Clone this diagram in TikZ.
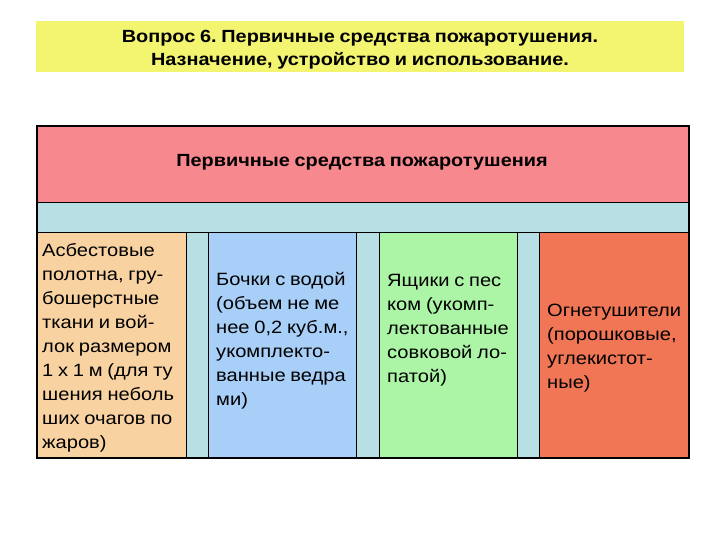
\documentclass[tikz,border=0pt]{standalone}
\usepackage{fontspec}
\setmainfont{Liberation Sans}[FakeStretch=1.13, WordSpace=0.85]
\frenchspacing
\definecolor{ttlyellow}{HTML}{F3F571}
\definecolor{hdrpink}{HTML}{F7888E}
\definecolor{strip}{HTML}{B8DFE3}
\definecolor{colorange}{HTML}{F9D2A2}
\definecolor{colblue}{HTML}{A7CFF7}
\definecolor{colgreen}{HTML}{ACF5A6}
\definecolor{colred}{HTML}{F07655}
\begin{document}
\begin{tikzpicture}[x=1pt,y=1pt,
  box/.style={draw=black, line width=1pt, inner sep=0pt},
  body/.style={font=\fontsize{17.8}{24}\selectfont, align=left, inner sep=0pt, anchor=west},
  ]
\useasboundingbox (0,0) rectangle (720,540);
% title
\fill[ttlyellow] (36,519) rectangle (684,468);
\node[font=\bfseries\fontsize{17.6}{23}\selectfont, align=center] (title) at (360,490)
  {Вопрос 6. Первичные средства пожаротушения.\\Назначение, устройство и использование.};
% frame background
\fill[strip] (37,414) rectangle (689,82);
% header
\draw[box, fill=hdrpink] (37,414) rectangle (689,337);
\node[font=\bfseries\fontsize{17.6}{20}\selectfont] (hdr) at (362,378) {Первичные средства пожаротушения};
% strip
\draw[box] (37,337) rectangle (689,307);
% gaps
\draw[box] (186,307) rectangle (208,82);
\draw[box] (356,307) rectangle (379,82);
\draw[box] (517,307) rectangle (539,82);
% columns
\draw[box, fill=colorange] (37,307) rectangle (186,82);
\draw[box, fill=colblue] (208,307) rectangle (356,82);
\draw[box, fill=colgreen] (379,307) rectangle (517,82);
\draw[box, fill=colred] (539,307) rectangle (689,82);
% texts
\node[body] (t1) at (42,192) {Асбестовые\\полотна, гру-\\бошерстные\\ткани и вой-\\лок размером\\1 x 1 м (для ту\\шения неболь\\ших очагов по\\жаров)};
\node[body] (t2) at (216,199) {Бочки с водой\\(объем не ме\\нее 0,2 куб.м.,\\укомплекто-\\ванные ведра\\ми)};
\node[body] (t3) at (387,210) {Ящики с пес\\ком (укомп-\\лектованные\\совковой ло-\\патой)};
\node[body] (t4) at (547,192) {Огнетушители\\(порошковые,\\углекистот-\\ные)};
% outer frame
\draw[line width=2.5pt] (37,414) rectangle (689,82);
\end{tikzpicture}
\end{document}
